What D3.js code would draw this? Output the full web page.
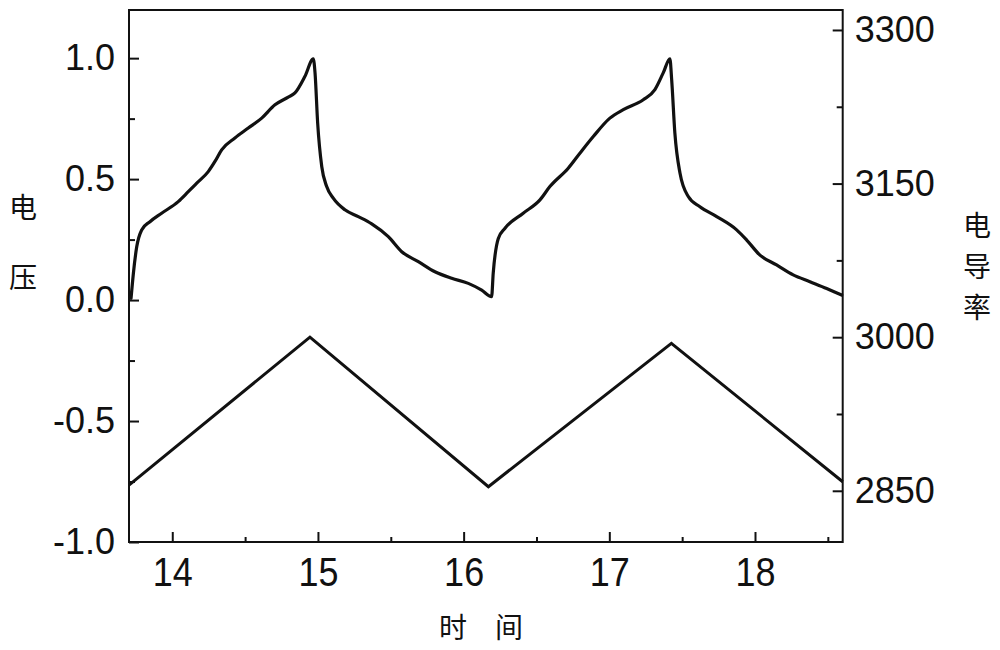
<!DOCTYPE html>
<html>
<head>
<meta charset="utf-8">
<script src="https://cdn.jsdelivr.net/npm/d3@7"></script>
<style>
  html, body { margin: 0; padding: 0; background: #fff; }
  svg { display: block; }
  .tick-label { font-family: "Liberation Sans", Arial, sans-serif; font-size: 36px; fill: #111; }
  .cjk { font-family: "Noto Sans CJK SC", sans-serif; font-size: 28px; fill: #111; }
</style>
</head>
<body>
<svg id="chart" width="1000" height="650"></svg>
<script>
// ---- Data ----
// Upper curve: 电压 (left axis)
const voltageTime = [13.717, 13.733, 13.756, 13.79, 13.847, 13.927, 14.041, 14.11, 14.168, 14.247, 14.293, 14.339, 14.43, 14.522, 14.614, 14.705, 14.796, 14.842, 14.911, 14.968, 14.98, 14.998, 15.026, 15.06, 15.105, 15.185, 15.277, 15.369, 15.483, 15.575, 15.689, 15.803, 15.918, 16.032, 16.124, 16.192,
  16.203, 16.238, 16.284, 16.409, 16.524, 16.592, 16.718, 16.798, 16.89, 17.004, 17.096, 17.233, 17.313, 17.37, 17.416, 17.428, 17.45, 17.485, 17.542, 17.622, 17.737, 17.874, 17.943, 18.034, 18.148, 18.262, 18.377, 18.492, 18.595];
const voltageValues = [0.007, 0.11, 0.22, 0.29, 0.324, 0.359, 0.407, 0.448, 0.483, 0.531, 0.573, 0.621, 0.670, 0.711, 0.752, 0.807, 0.839, 0.856, 0.925, 0.997, 0.939, 0.732, 0.552, 0.469, 0.421, 0.373, 0.345, 0.315, 0.262, 0.200, 0.159, 0.117, 0.090, 0.069, 0.041, 0.014,
  0.11, 0.255, 0.297, 0.359, 0.414, 0.469, 0.545, 0.607, 0.676, 0.752, 0.787, 0.828, 0.870, 0.939, 0.997, 0.911, 0.690, 0.525, 0.428, 0.386, 0.345, 0.290, 0.248, 0.186, 0.145, 0.104, 0.076, 0.048, 0.021];

// Triangle curve: 电导率 (right axis)
const condTime = [13.703, 14.945, 16.17, 17.426, 18.602];
const condValues = [2855.6, 3000, 2854, 2994, 2858.8];

// Axis ticks
const xTicks = [14, 15, 16, 17, 18];
const xMinorTicks = [14.5, 15.5, 16.5, 17.5, 18.5];
const yLeftTicks = [-1.0, -0.5, 0.0, 0.5, 1.0];
const yLeftMinorTicks = [-0.75, -0.25, 0.25, 0.75];
const yRightTicks = [2850, 3000, 3150, 3300];
const yRightMinorTicks = [2925, 3075, 3225];

const xLabel = ["时", "间"];
const yLeftLabel = ["电", "压"];
const yRightLabel = ["电", "导", "率"];

// ---- Layout ----
const L = 129, R = 842.7, T = 10, B = 542;
const svg = d3.select("#chart");

const x = d3.scaleLinear().domain([13.703, 18.602]).range([L, R]);
const yL = d3.scaleLinear().domain([-1.0, 1.199]).range([B, T]);
const yR = d3.scaleLinear().domain([2800, 3319.5]).range([B, T]);

// Frame
svg.append("rect").attr("x", L).attr("y", T).attr("width", R - L).attr("height", B - T)
  .attr("fill", "none").attr("stroke", "#111").attr("stroke-width", 2);

// Axes (ticks inward)
function styleAxis(g) {
  g.select(".domain").remove();
  g.selectAll(".tick line").attr("stroke", "#111").attr("stroke-width", 2);
  g.selectAll(".tick text").attr("class", "tick-label").attr("fill", "#111");
}

const xAxis = svg.append("g").attr("transform", `translate(0,${B})`)
  .call(d3.axisBottom(x).tickValues(xTicks).tickSizeInner(-10).tickFormat(d3.format("d")));
styleAxis(xAxis);
xAxis.selectAll(".tick text").attr("dy", 0).attr("y", 44 / 1.12)
  .attr("transform", "scale(1,1.12)");

const xAxisMinor = svg.append("g").attr("transform", `translate(0,${B})`)
  .call(d3.axisBottom(x).tickValues(xMinorTicks).tickSizeInner(-5).tickFormat(""));
styleAxis(xAxisMinor);

const yLAxis = svg.append("g").attr("transform", `translate(${L},0)`)
  .call(d3.axisLeft(yL).tickValues(yLeftTicks).tickSizeInner(-10).tickFormat(d => d.toFixed(1)));
styleAxis(yLAxis);
yLAxis.selectAll(".tick text").attr("x", -14);

const yLAxisMinor = svg.append("g").attr("transform", `translate(${L},0)`)
  .call(d3.axisLeft(yL).tickValues(yLeftMinorTicks).tickSizeInner(-6).tickFormat(""));
styleAxis(yLAxisMinor);

const yRAxis = svg.append("g").attr("transform", `translate(${R},0)`)
  .call(d3.axisRight(yR).tickValues(yRightTicks).tickSizeInner(-10).tickFormat(d3.format("d")));
styleAxis(yRAxis);
yRAxis.selectAll(".tick text").attr("x", 12);

const yRAxisMinor = svg.append("g").attr("transform", `translate(${R},0)`)
  .call(d3.axisRight(yR).tickValues(yRightMinorTicks).tickSizeInner(-6).tickFormat(""));
styleAxis(yRAxisMinor);

// Lines
const vData = voltageTime.map((t, i) => [t, voltageValues[i]]);
const cData = condTime.map((t, i) => [t, condValues[i]]);

svg.append("path").datum(vData)
  .attr("fill", "none").attr("stroke", "#111").attr("stroke-width", 3.2)
  .attr("stroke-linejoin", "round").attr("stroke-linecap", "round")
  .attr("d", d3.line().x(d => x(d[0])).y(d => yL(d[1])).curve(d3.curveMonotoneX));

svg.append("path").datum(cData)
  .attr("fill", "none").attr("stroke", "#111").attr("stroke-width", 3)
  .attr("stroke-linejoin", "miter")
  .attr("d", d3.line().x(d => x(d[0])).y(d => yR(d[1])));

// Axis titles (Chinese)
svg.append("g").selectAll("text").data(xLabel).join("text")
  .attr("class", "cjk").attr("text-anchor", "middle")
  .attr("x", (d, i) => 453 + i * 56).attr("y", 638).text(d => d);

svg.append("g").selectAll("text").data(yLeftLabel).join("text")
  .attr("class", "cjk").attr("text-anchor", "middle")
  .attr("x", 23).attr("y", (d, i) => 218 + i * 70).text(d => d);

svg.append("g").selectAll("text").data(yRightLabel).join("text")
  .attr("class", "cjk").attr("text-anchor", "middle")
  .attr("x", 977).attr("y", (d, i) => 236 + i * 41).text(d => d);
</script>
</body>
</html>
